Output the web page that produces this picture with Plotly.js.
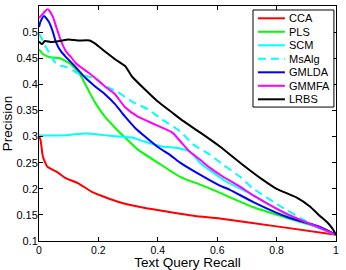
<!DOCTYPE html>
<html><head><meta charset="utf-8">
<script src="https://cdn.plot.ly/plotly-3.0.1.min.js"></script>
<style>html,body{margin:0;padding:0;background:#fff}#chart{width:346px;height:270px}</style>
</head><body><div id="chart"></div>
<script>
const seriesNames = ['CCA','PLS','SCM','MsAlg','GMLDA','GMMFA','LRBS'];
const seriesColors = ['#ff0000','#00ff00','#00ffff','#00ffff','#0000ff','#ff00ff','#000000'];
const seriesDash = ['solid','solid','solid','8px,5px','solid','solid','solid'];

const ccaX = [0,0.005,0.013,0.027,0.044,0.064,0.088,0.131,0.178,0.266,0.357,0.434,0.525,0.609,0.8,1.0];
const ccaY = [0.30,0.294,0.262,0.243,0.237,0.231,0.221,0.211,0.194,0.175,0.163,0.156,0.148,0.143,0.128,0.112];

const plsX = [0,0.013,0.037,0.07,0.104,0.138,0.165,0.189,0.222,0.256,0.29,0.333,0.4,0.475,0.542,0.586,0.72,0.835,0.946,1.0];
const plsY = [0.467,0.458,0.452,0.45,0.44,0.419,0.39,0.365,0.338,0.317,0.298,0.275,0.25,0.223,0.208,0.198,0.165,0.144,0.125,0.112];

const scmX = [0,0.05,0.1,0.155,0.2,0.23,0.266,0.313,0.357,0.414,0.468,0.508,0.542,0.586,0.633,0.72,0.835,0.946,1.0];
const scmY = [0.302,0.302,0.303,0.306,0.304,0.302,0.30,0.298,0.29,0.281,0.278,0.271,0.25,0.231,0.213,0.188,0.15,0.124,0.112];

const msalgX = [0,0.007,0.02,0.035,0.054,0.07,0.094,0.138,0.195,0.212,0.266,0.313,0.367,0.414,0.475,0.519,0.576,0.62,0.677,0.72,0.811,0.9,1.0];
const msalgY = [0.497,0.49,0.475,0.46,0.442,0.436,0.433,0.419,0.41,0.40,0.385,0.367,0.352,0.333,0.31,0.285,0.265,0.246,0.223,0.201,0.167,0.138,0.112];

const gmldaX = [0,0.005,0.017,0.034,0.047,0.057,0.074,0.091,0.125,0.155,0.189,0.222,0.256,0.29,0.323,0.357,0.4,0.441,0.475,0.542,0.609,0.643,0.72,0.835,0.946,1.0];
const gmldaY = [0.51,0.52,0.531,0.519,0.50,0.481,0.463,0.452,0.432,0.413,0.396,0.381,0.362,0.338,0.317,0.3,0.28,0.265,0.25,0.227,0.206,0.198,0.175,0.146,0.127,0.112];

const gmmfaX = [0,0.01,0.02,0.03,0.047,0.058,0.074,0.091,0.108,0.125,0.165,0.189,0.222,0.256,0.29,0.333,0.391,0.448,0.485,0.508,0.542,0.576,0.62,0.677,0.72,0.835,0.946,1.0];
const gmmfaY = [0.527,0.533,0.54,0.544,0.529,0.51,0.483,0.463,0.452,0.44,0.423,0.412,0.396,0.381,0.356,0.338,0.323,0.308,0.285,0.271,0.256,0.24,0.223,0.204,0.188,0.152,0.125,0.112];

const lrbsX = [0,0.01,0.02,0.04,0.07,0.1,0.13,0.17,0.189,0.222,0.256,0.29,0.313,0.357,0.4,0.448,0.485,0.542,0.609,0.677,0.754,0.8,0.868,0.91,0.946,0.975,0.99,1.0];
const lrbsY = [0.482,0.477,0.483,0.481,0.483,0.486,0.484,0.484,0.478,0.463,0.448,0.435,0.415,0.39,0.367,0.346,0.33,0.308,0.281,0.25,0.217,0.2,0.183,0.167,0.148,0.133,0.122,0.112];

const xTicks = [0,0.2,0.4,0.6,0.8,1];
const xTickText = ['0','0.2','0.4','0.6','0.8','1'];
const yTicks = [0.1,0.15,0.2,0.25,0.3,0.35,0.4,0.45,0.5,0.55];
const yTickText = ['0.1','0.15','0.2','0.25','0.3','0.35','0.4','0.45','0.5','0.55'];

const xs = [ccaX,plsX,scmX,msalgX,gmldaX,gmmfaX,lrbsX];
const ys = [ccaY,plsY,scmY,msalgY,gmldaY,gmmfaY,lrbsY];

const FONT = 'Liberation Sans, Arial, sans-serif';
const traces = seriesNames.map((n,i)=>({
  type:'scatter', mode:'lines', name:n, x:xs[i], y:ys[i],
  line:{color:seriesColors[i], width:2, dash:seriesDash[i], shape:'spline', smoothing:0.5},
  showlegend:false
}));

// custom legend in paper coords
const shapes = [{type:'rect', xref:'paper', yref:'paper', x0:0.7205, x1:0.993, y0:0.570, y1:0.983,
  line:{color:'#000', width:1}, fillcolor:'#fff', layer:'above'}];
const annotations = [];
seriesNames.forEach((n,i)=>{
  const py = 18.3 + 13.5*i;
  const yp = 1 - (py-6)/235;
  shapes.push({type:'line', xref:'paper', yref:'paper', x0:0.737, x1:0.828, y0:yp, y1:yp,
    line:{color:seriesColors[i], width:2, dash:seriesDash[i]}, layer:'above'});
  annotations.push({xref:'paper', yref:'paper', x:0.836, y:yp, xanchor:'left', yanchor:'middle',
    text:n, showarrow:false, font:{family:FONT, size:11, color:'#000'}});
});

const layout = {
  width:346, height:270,
  margin:{l:39, r:10, t:6, b:29},
  paper_bgcolor:'#fff', plot_bgcolor:'#fff',
  font:{family:FONT, size:11, color:'#000'},
  xaxis:{range:[0,1], tickvals:xTicks, ticktext:xTickText, ticks:'inside', ticklen:4, tickcolor:'#000',
    showline:true, linecolor:'#000', linewidth:1, mirror:'ticks', showgrid:false, zeroline:false,
    ticklabelstandoff:-1,
    tickfont:{size:10.5}, title:{text:'Text Query Recall', font:{size:13.5}, standoff:0}, automargin:false},
  yaxis:{range:[0.1,0.55], tickvals:yTicks, ticktext:yTickText, ticks:'inside', ticklen:4, tickcolor:'#000',
    showline:true, linecolor:'#000', linewidth:1, mirror:'ticks', showgrid:false, zeroline:false,
    ticklabelstandoff:-2,
    tickfont:{size:11}, title:{text:'Precision', font:{size:13.5}, standoff:2}, automargin:false},
  shapes:shapes, annotations:annotations, showlegend:false
};
Plotly.newPlot('chart', traces, layout, {displayModeBar:false, staticPlot:true});
</script></body></html>
